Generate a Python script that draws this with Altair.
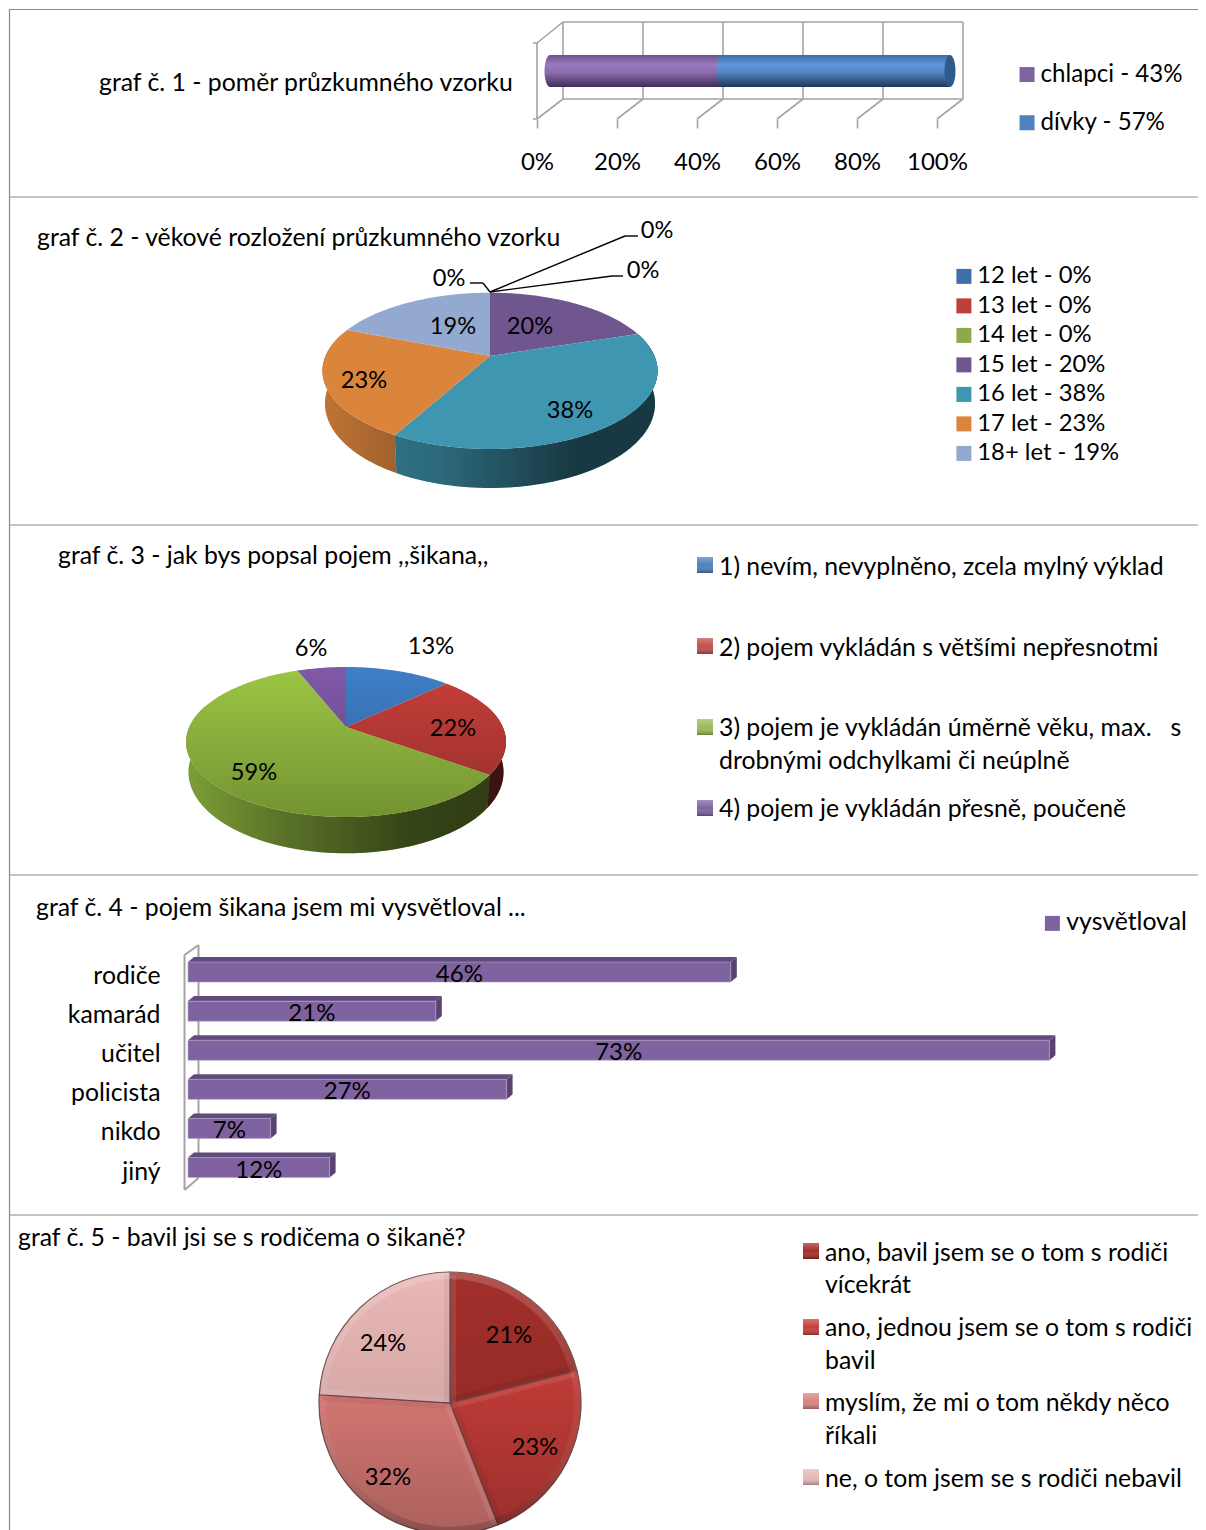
import math
import numpy as np
import pandas as pd
import altair as alt

# ---------- data ----------
p1_names = ["chlapci - 43%", "dívky - 57%"]
p1_values = [43, 57]
p1_colors = ["#8064a2", "#4f81bd"]
p1_ticks = [0, 20, 40, 60, 80, 100]

p2_names = ["12 let - 0%", "13 let - 0%", "14 let - 0%", "15 let - 20%", "16 let - 38%", "17 let - 23%", "18+ let - 19%"]
p2_values = [0, 0, 0, 20, 38, 23, 19]
p2_colors = ["#3f6fa8", "#bd3e3a", "#8bab4a", "#6f568f", "#3f96b0", "#da843c", "#93a9cf"]

p3_names = ["1", "2", "3", "4"]
p3_values = [13, 22, 59, 6]
p3_colors = ["#3f7fc8", "#c83f3a", "#9cc644", "#8059a8"]

p4_names = ["rodiče", "kamarád", "učitel", "policista", "nikdo", "jiný"]
p4_values = [46, 21, 73, 27, 7, 12]

p5_names = ["a", "b", "c", "d"]
p5_values = [21, 23, 32, 24]
p5_colors = ["#a32f2b", "#cc3f3a", "#e5807c", "#eab8b6"]

titles = [
    "graf č. 1 - poměr průzkumného vzorku",
    "graf č. 2 - věkové rozložení průzkumného vzorku",
    "graf č. 3 - jak bys popsal pojem ,,šikana,,",
    "graf č. 4 - pojem šikana jsem mi vysvětloval ...",
    "graf č. 5 - bavil jsi se s rodičema o šikaně?",
]
title_xy = [(99, 82), (37, 237), (58, 555), (36, 907), (18, 1237)]

p3_legend = [
    "1) nevím, nevyplněno, zcela mylný výklad",
    "2) pojem vykládán s většími nepřesnotmi",
    "3) pojem je vykládán úměrně věku, max. \u00a0\u00a0s",
    "drobnými odchylkami či neúplně",
    "4) pojem je vykládán přesně, poučeně",
]
p3_legend_y = [566, 647, 727, 760, 808]
p3_key_y = [565, 646, 727, 808]

p5_legend = [
    "ano, bavil jsem se o tom s rodiči",
    "vícekrát",
    "ano, jednou jsem se o tom s rodiči",
    "bavil",
    "myslím, že mi o tom někdy něco",
    "říkali",
    "ne, o tom jsem se s rodiči nebavil",
]
p5_legend_y = [1252, 1284, 1327, 1360, 1402, 1435, 1478]
p5_key_y = [1251, 1327, 1401, 1477]

p2_labels = [("20%", 530, 325), ("38%", 570, 409), ("23%", 364, 379), ("19%", 453, 325),
             ("0%", 449, 277), ("0%", 657, 229), ("0%", 643, 269)]
p3_labels = [("13%", 431, 645), ("22%", 453, 727), ("59%", 254, 771), ("6%", 311, 647)]
p5_labels = [("21%", 509, 1334), ("23%", 535, 1446), ("32%", 388, 1476), ("24%", 383, 1342)]

# ---------- layout ----------
FONT = "Lato"
FS = 24.8
FS_NUM = 23.6
W, H = 1189, 1521
OX, OY = 9, 9
GRID = "#a3a3a3"


def grad(stops, vertical=True):
    return alt.Gradient(
        gradient="linear",
        x1=0, y1=0, x2=0 if vertical else 1, y2=1 if vertical else 0,
        stops=[alt.GradientStop(color=c, offset=o) for o, c in stops],
    )


def px(name):
    return alt.X(f"{name}:Q", scale=None, axis=None)


def py(name):
    return alt.Y(f"{name}:Q", scale=None, axis=None)


def text_layer(rows, align="left", fs=FS):
    df = pd.DataFrame([{"t": t, "x": x - OX, "y": y - OY} for t, x, y in rows])
    return alt.Chart(df).mark_text(font=FONT, fontSize=fs, align=align, baseline="middle", color="black", dy=1.8).encode(
        x=px("x"), y=py("y"), text="t:N")


def seg_layer(segs, color=GRID, width=1.6):
    df = pd.DataFrame([{"x": a - OX, "y": b - OY, "x2": c - OX, "y2": d - OY} for a, b, c, d in segs])
    return alt.Chart(df).mark_rule(color=color, strokeWidth=width).encode(
        x=px("x"), y=py("y"), x2="x2:Q", y2="y2:Q")


def feature(pts, cat="x"):
    coords = [[float(a - OX), float(b - OY)] for a, b in pts]
    coords.append(coords[0])
    return {"type": "Feature", "properties": {"cat": cat},
            "geometry": {"type": "Polygon", "coordinates": [coords]}}


def geo(feats, **mark):
    return alt.Chart(alt.Data(values=feats)).mark_geoshape(**mark).project(
        type="identity", scale=1, translate=[0, 0])


def rim(deg, p):
    t = np.radians(deg)
    u, v = np.sin(t), -np.cos(t)
    w = 1 - p["k"] * v
    return p["cx"] + p["A"] * u / w, p["cy"] + p["B"] * v / w, w


def arc_pts(a, b, p, depth=False):
    n = max(int(abs(b - a)) + 2, 3)
    d = np.linspace(a, b, n)
    x, y, w = rim(d, p)
    if depth:
        x = p["cx"] + (x - p["cx"]) * 0.985
        y = y + p["D"] / w
    return list(zip(x, y))


def pie3d(names, values, p):
    tops, walls = [], []
    a = 0.0
    for n, v in zip(names, values):
        b = a + v * 3.6
        if v > 0:
            tops.append(feature([(p["cx"], p["cy"])] + arc_pts(a, b, p), n))
            lo, hi = max(a, 72), min(b, 288)
            if hi > lo:
                walls.append(feature(arc_pts(lo, hi, p) + arc_pts(hi, lo, p, True), n))
        a = b
    whole_top = feature(arc_pts(0, 360, p))
    whole_wall = feature(arc_pts(72, 288, p) + arc_pts(288, 72, p, True))
    return tops, walls, whole_top, whole_wall


def legend(x, y, row, fs=FS, size=225):
    return alt.Legend(orient="none", legendX=x - OX - 3, legendY=y - OY, title=None, symbolType="square",
                      symbolSize=size, labelFont=FONT, labelFontSize=fs, labelColor="black",
                      rowPadding=row, symbolStrokeWidth=0, symbolOpacity=1, labelOffset=1.5,
                      labelLimit=400)


layers = []

# ---------- panel borders ----------
layers.append(alt.Chart(pd.DataFrame({"y": [0.5, 188, 516, 866, 1206]})).mark_rule(color="#8a8a8a", strokeWidth=1.2)
              .encode(y=py("y")))
layers.append(alt.Chart(pd.DataFrame({"x": [0.5]})).mark_rule(color="#8a8a8a", strokeWidth=1.2).encode(x=px("x")))

# ---------- panel 1 ----------
p1_scale = alt.Scale(domain=[0, 100], range=[537 - OX, 937 - OX])
frame = [(537, 43, 537, 119), (533, 43, 537, 43), (533, 119, 537, 119), (537, 43, 563, 22),
         (563, 99, 963, 99), (563, 22, 963, 22)]
for t in p1_ticks:
    bx = 537 + 4 * t
    frame.append((bx, 119, bx + 26, 99))
    frame.append((bx + 26, 22, bx + 26, 99))
layers.append(seg_layer(frame))

starts = np.cumsum([0] + p1_values[:-1]).tolist()
p1_df = pd.DataFrame({"name": p1_names, "s": starts, "e": np.cumsum(p1_values).tolist(), "v": p1_values})
p1_grads = [
    grad([(0, "#6e5290"), (0.3, "#9a7abd"), (0.55, "#8a6cab"), (1, "#402d58")]),
    grad([(0, "#3f6ba3"), (0.3, "#5f97dc"), (0.55, "#5285c4"), (1, "#1d3758")]),
]


def ellipse(cx, cy, rx, ry, cat="x"):
    d = np.radians(np.arange(0, 360, 10))
    return feature(list(zip(cx + rx * np.cos(d), cy + ry * np.sin(d))), cat)


BAR_SHIFT = 13
for i in range(2):
    if i == 0:
        xenc = alt.X("s:Q", scale=p1_scale, title=None, axis=alt.Axis(
            values=p1_ticks, labelExpr="datum.value + '%'", domain=False, grid=False, tickColor=GRID,
            tickWidth=1.6, tickSize=9, labelFont=FONT, labelFontSize=FS_NUM + 0.4, labelColor="black", labelPadding=22,
            labelFlush=False, labelOverlap=False, orient="bottom", offset=-(H - (119 - OY))))
    else:
        xenc = alt.X("s:Q", scale=p1_scale, axis=None)
    layers.append(geo([ellipse(537 + 4 * starts[i] + BAR_SHIFT, 71, 5.5, 16)], fill=p1_grads[i], stroke=None))
    layers.append(alt.Chart(p1_df.iloc[[i]]).mark_bar(fill=p1_grads[i], xOffset=BAR_SHIFT, x2Offset=BAR_SHIFT).encode(
        x=xenc, x2="e:Q", y=alt.value(55 - OY), y2=alt.value(87 - OY)))
layers.append(geo([ellipse(537 + 400 + BAR_SHIFT, 71, 5.5, 16)], fill="#2f5a8a", stroke=None))
layers.append(alt.Chart(p1_df).mark_point(size=0, filled=True).encode(
    x=alt.value(0), y=alt.value(0),
    color=alt.Color("name:N", scale=alt.Scale(domain=p1_names, range=p1_colors),
                    legend=legend(1018, 62.5, 23.2, fs=24.1))))

# ---------- panel 2 ----------
P2 = dict(cx=490, cy=356, A=164.5, B=75.3, k=0.19, D=31.6)
tops, walls, wt, ww = pie3d(p2_names, p2_values, P2)
p2_scale = alt.Scale(domain=p2_names, range=p2_colors)
layers.append(geo(walls).encode(color=alt.Color("properties.cat:N", scale=p2_scale, legend=None)))
layers.append(geo([ww], fill=grad([(0, "rgba(0,0,0,0.12)"), (0.2, "rgba(0,0,0,0.25)"), (0.35, "rgba(0,0,0,0.3)"),
                                   (0.75, "rgba(0,0,0,0.62)"), (1, "rgba(0,0,0,0.62)")], False), stroke=None))
layers.append(geo(tops).encode(color=alt.Color("properties.cat:N", scale=p2_scale,
                                               legend=legend(955, 264.5, 4.5, fs=23.8))))
layers.append(seg_layer([(490, 292, 483, 283), (483, 283, 470, 283), (490, 292, 625, 236), (625, 236, 638, 236),
                         (490, 292, 612, 276), (612, 276, 623, 276)], color="black", width=1.4))
layers.append(text_layer(p2_labels, "center", FS_NUM))

# ---------- panel 3 ----------
P3 = dict(cx=346, cy=727, A=156.7, B=72, k=0.2, D=29)
tops, walls, wt, ww = pie3d(p3_names, p3_values, P3)
p3_scale = alt.Scale(domain=p3_names, range=p3_colors)
layers.append(geo(walls).encode(color=alt.Color("properties.cat:N", scale=p3_scale, legend=None)))
layers.append(geo([ww], fill=grad([(0, "rgba(0,0,0,0.2)"), (0.3, "rgba(0,0,0,0.42)"), (0.7, "rgba(0,0,0,0.66)"),
                                   (1, "rgba(0,0,0,0.7)")], False), stroke=None))
layers.append(geo(tops).encode(color=alt.Color("properties.cat:N", scale=p3_scale, legend=None)))
layers.append(geo([wt], fill=grad([(0, "rgba(0,0,0,0)"), (1, "rgba(0,0,0,0.26)")]), stroke=None))
layers.append(text_layer(p3_labels, "center", FS_NUM))

key_grad = grad([(0, "rgba(255,255,255,0.28)"), (0.5, "rgba(255,255,255,0)"), (1, "rgba(0,0,0,0.32)")])


def keys(names, colors, x, ys):
    df = pd.DataFrame({"n": names, "x": [x - OX] * len(names), "y": [v - OY for v in ys]})
    scale = alt.Scale(domain=names, range=colors)
    return [
        alt.Chart(df).mark_square(size=256, opacity=1).encode(
            x=px("x"), y=py("y"), color=alt.Color("n:N", scale=scale, legend=None)),
        alt.Chart(df).mark_square(size=256, fill=key_grad, opacity=1).encode(x=px("x"), y=py("y")),
    ]


layers += keys(p3_names, ["#4f81bd", "#c0504d", "#9bbb59", "#8064a2"], 705, p3_key_y)
layers.append(text_layer([(t, 719, y) for t, y in zip(p3_legend, p3_legend_y)]))

# ---------- panel 4 ----------
P4_X0, P4_K = 188, 11.8
P4_Y0, P4_STEP = 962, 39.1
p4_x = alt.Scale(domain=[0, 100], range=[P4_X0 - OX, P4_X0 + 100 * P4_K - OX])
p4_y = alt.Scale(domain=p4_names, range=[P4_Y0 - 9.5 - OY, P4_Y0 - 9.5 + 6 * P4_STEP - OY], paddingInner=0.49, paddingOuter=0.245)
p4_df = pd.DataFrame({"name": p4_names, "v": p4_values, "m": [v / 2 for v in p4_values],
                      "t": [f"{v}%" for v in p4_values], "series": ["vysvětloval"] * 6})
layers.append(seg_layer([(184.5, 955, 184.5, 1190), (184.5, 955, 198.5, 945), (198.5, 945, 198.5, 1178),
                         (184.5, 1190, 198.5, 1178)], width=2))
top_faces, side_faces = [], []
for i, v in enumerate(p4_values):
    y0 = P4_Y0 + i * P4_STEP
    x1 = P4_X0 + v * P4_K
    top_faces.append(feature([(P4_X0, y0), (P4_X0 + 6, y0 - 5), (x1 + 6, y0 - 5), (x1, y0)]))
    side_faces.append(feature([(x1, y0), (x1 + 6, y0 - 5), (x1 + 6, y0 + 15), (x1, y0 + 20)]))
layers.append(geo(top_faces, fill="#614b7e", stroke=None))
layers.append(geo(side_faces, fill="#58426f", stroke=None))
layers.append(alt.Chart(p4_df).mark_bar(size=20, stroke="#b0a3c4", strokeWidth=0.6).encode(
    x=alt.X("v:Q", scale=p4_x, axis=None),
    y=alt.Y("name:N", scale=p4_y, sort=p4_names, title=None, axis=alt.Axis(
        domain=False, ticks=False, grid=False, labelFont=FONT, labelFontSize=FS, labelColor="black",
        labelPadding=0, labelOffset=5, offset=-(160 - OX))),
    color=alt.Color("series:N", scale=alt.Scale(domain=["vysvětloval"], range=["#7f62a0"]),
                    legend=legend(1043, 911, 0))))
layers.append(alt.Chart(p4_df).mark_text(font=FONT, fontSize=FS_NUM + 0.4, color="black", dy=3).encode(
    x=alt.X("m:Q", scale=p4_x, axis=None), y=alt.Y("name:N", scale=p4_y, sort=p4_names, axis=None), text="t:N"))

# ---------- panel 5 ----------
CX5, CY5, R5 = 450 - OX, 1403 - OY, 131
p5_df = pd.DataFrame({"n": p5_names, "v": p5_values, "i": range(4)})
p5_scale = alt.Scale(domain=p5_names, range=p5_colors)
layers.append(alt.Chart(p5_df).mark_arc(outerRadius=R5, stroke="#6e4a4a", strokeWidth=1.2).encode(
    theta=alt.Theta("v:Q", stack=True), order=alt.Order("i:Q"),
    x=alt.value(CX5), y=alt.value(CY5),
    color=alt.Color("n:N", scale=p5_scale, legend=None)))
whole = pd.DataFrame({"v": [sum(p5_values)]})
layers.append(alt.Chart(whole).mark_arc(outerRadius=R5, fill=grad([(0, "rgba(0,0,0,0)"), (0.45, "rgba(0,0,0,0.08)"),
                                                                   (1, "rgba(0,0,0,0.25)")])).encode(
    theta=alt.Theta("v:Q", stack=True), x=alt.value(CX5), y=alt.value(CY5)))
layers.append(alt.Chart(whole).mark_arc(outerRadius=R5, innerRadius=R5 - 7, fill=grad([
    (0, "rgba(255,255,255,0.18)"), (0.5, "rgba(255,255,255,0.05)"), (1, "rgba(0,0,0,0.2)")])).encode(
    theta=alt.Theta("v:Q", stack=True), x=alt.value(CX5), y=alt.value(CY5)))

# bevel strips along the radial edges of every slice
light, dark = [], []
ang = 0.0
for v in p5_values:
    for deg, side, bucket in ((ang, 1, light), (ang + v * 3.6, -1, dark)):
        t = math.radians(deg)
        dx, dy = math.sin(t), -math.cos(t)
        nx, ny = math.cos(t) * side, math.sin(t) * side
        cx, cy = 450, 1403
        bucket.append(feature([(cx + nx, cy + ny), (cx + (R5 - 3) * dx + nx, cy + (R5 - 3) * dy + ny),
                               (cx + (R5 - 3) * dx + 6 * nx, cy + (R5 - 3) * dy + 6 * ny), (cx + 6 * nx, cy + 6 * ny)]))
    ang += v * 3.6
layers.append(geo(light, fill="rgba(255,255,255,0.09)", stroke=None))
layers.append(geo(dark, fill="rgba(0,0,0,0.05)", stroke=None))

layers.append(text_layer(p5_labels, "center", FS_NUM))
layers += keys(p5_names, ["#a32f2b", "#c8403b", "#d98583", "#e6b9b8"], 811, p5_key_y)
layers.append(text_layer([(t, 825, y) for t, y in zip(p5_legend, p5_legend_y)]))

# ---------- titles ----------
layers.append(text_layer([(t, x, y) for t, (x, y) in zip(titles, title_xy)]))

chart = alt.layer(*layers).resolve_scale(
    x="independent", y="independent", color="independent", theta="independent"
).resolve_axis(x="independent", y="independent").resolve_legend(color="independent").properties(
    width=W, height=H,
    padding={"left": 1, "top": 1, "right": 0, "bottom": 0},
    autosize=alt.AutoSizeParams(type="none"),
    background="white",
).configure_view(stroke=None)

chart.save("out.html", embed_options={"renderer": "svg", "actions": False})
